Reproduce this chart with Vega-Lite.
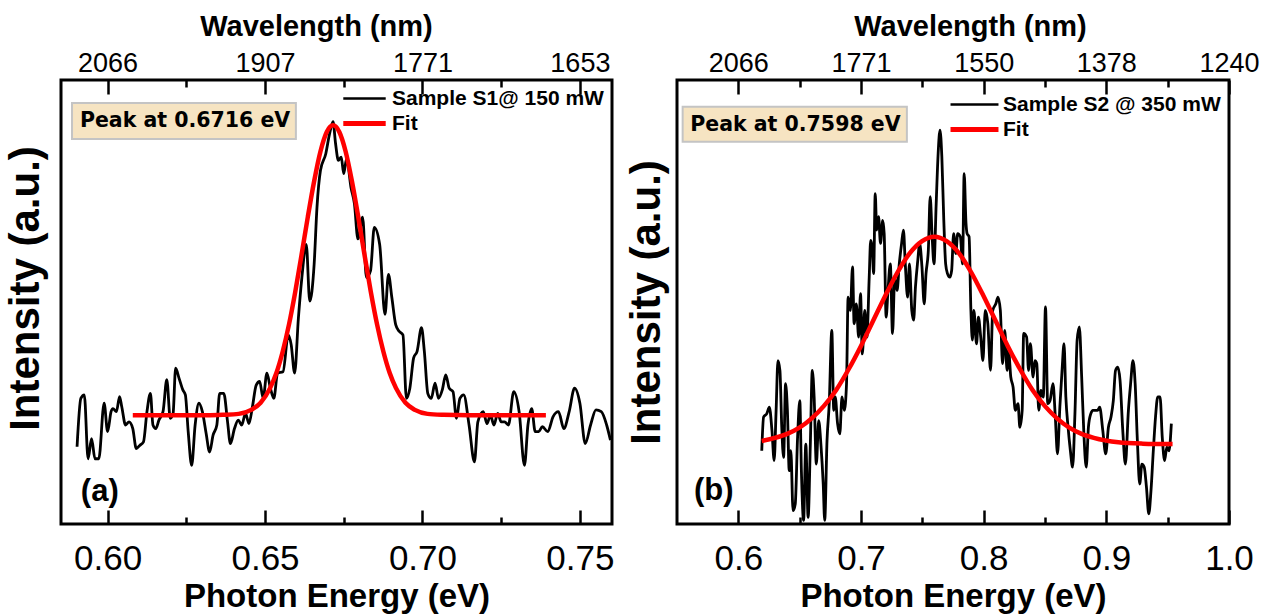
{
  "$schema": "https://vega.github.io/schema/vega-lite/v6.json",
  "padding": {"left": 2, "top": 10, "right": 0, "bottom": 0},
  "background": "white",
  "spacing": 65,
  "bounds": "flush",
  "config": {
    "view": {"stroke": "black", "strokeWidth": 3},
    "font": "Liberation Sans",
    "axis": {"domain": false, "grid": false, "tickColor": "black", "tickWidth": 2.5, "labelColor": "black", "titleColor": "black", "labelFlush": false, "labelOverlap": false, "labelBound": false},
    "axisY": {"labels": false, "ticks": false, "titleFont": "Liberation Sans", "titleFontWeight": "bold", "titleFontSize": 42}
  },
  "resolve": {"scale": {"color": "independent"}, "legend": {"color": "independent"}},
  "datasets": {
    "s1": [
      {"E":0.5903,"I":17.4},{"E":0.5915,"I":28.3},{"E":0.5926,"I":29.1},{"E":0.5938,"I":14.7},{"E":0.5949,"I":19.2},{"E":0.5960,"I":14.7},{"E":0.5972,"I":14.7},{"E":0.5989,"I":27.2},{"E":0.6000,"I":20.8},{"E":0.6011,"I":25.3},{"E":0.6017,"I":26.0},{"E":0.6028,"I":25.3},{"E":0.6038,"I":28.7},{"E":0.6045,"I":26.4},{"E":0.6057,"I":22.3},{"E":0.6068,"I":23.0},{"E":0.6080,"I":21.5},{"E":0.6091,"I":17.0},{"E":0.6102,"I":17.7},{"E":0.6114,"I":18.5},{"E":0.6125,"I":25.3},{"E":0.6136,"I":29.4},{"E":0.6144,"I":22.3},{"E":0.6153,"I":21.5},{"E":0.6163,"I":23.4},{"E":0.6176,"I":25.3},{"E":0.6188,"I":32.5},{"E":0.6199,"I":23.8},{"E":0.6208,"I":24.9},{"E":0.6216,"I":35.1},{"E":0.6227,"I":32.8},{"E":0.6239,"I":30.2},{"E":0.6247,"I":29.1},{"E":0.6256,"I":20.8},{"E":0.6267,"I":13.2},{"E":0.6278,"I":22.3},{"E":0.6290,"I":27.2},{"E":0.6301,"I":25.3},{"E":0.6313,"I":20.4},{"E":0.6324,"I":16.2},{"E":0.6335,"I":20.0},{"E":0.6347,"I":22.3},{"E":0.6356,"I":29.4},{"E":0.6369,"I":29.4},{"E":0.6381,"I":23.0},{"E":0.6390,"I":18.1},{"E":0.6403,"I":21.5},{"E":0.6415,"I":23.4},{"E":0.6426,"I":22.3},{"E":0.6438,"I":24.9},{"E":0.6449,"I":22.6},{"E":0.6460,"I":26.4},{"E":0.6472,"I":31.3},{"E":0.6483,"I":32.1},{"E":0.6494,"I":28.3},{"E":0.6506,"I":34.0},{"E":0.6517,"I":30.6},{"E":0.6528,"I":28.3},{"E":0.6540,"I":34.0},{"E":0.6557,"I":34.3},{"E":0.6574,"I":42.6},{"E":0.6583,"I":40.4},{"E":0.6594,"I":34.0},{"E":0.6606,"I":46.4},{"E":0.6617,"I":55.5},{"E":0.6631,"I":63.0},{"E":0.6642,"I":50.2},{"E":0.6656,"I":58.5},{"E":0.6665,"I":71.3},{"E":0.6676,"I":79.6},{"E":0.6693,"I":83.4},{"E":0.6705,"I":87.9},{"E":0.6716,"I":90.6},{"E":0.6724,"I":85.7},{"E":0.6733,"I":81.9},{"E":0.6742,"I":82.6},{"E":0.6750,"I":78.9},{"E":0.6759,"I":82.3},{"E":0.6773,"I":75.8},{"E":0.6784,"I":72.1},{"E":0.6795,"I":64.2},{"E":0.6810,"I":69.1},{"E":0.6822,"I":55.5},{"E":0.6835,"I":57.0},{"E":0.6847,"I":66.8},{"E":0.6864,"I":63.0},{"E":0.6881,"I":47.2},{"E":0.6892,"I":56.2},{"E":0.6903,"I":50.9},{"E":0.6915,"I":44.9},{"E":0.6926,"I":43.4},{"E":0.6938,"I":42.6},{"E":0.6949,"I":28.3},{"E":0.6960,"I":30.6},{"E":0.6972,"I":37.4},{"E":0.6983,"I":38.9},{"E":0.6997,"I":44.2},{"E":0.7006,"I":38.9},{"E":0.7017,"I":29.4},{"E":0.7028,"I":28.3},{"E":0.7040,"I":31.7},{"E":0.7051,"I":28.3},{"E":0.7063,"I":30.2},{"E":0.7074,"I":33.6},{"E":0.7085,"I":30.6},{"E":0.7097,"I":29.8},{"E":0.7108,"I":23.8},{"E":0.7119,"I":28.3},{"E":0.7131,"I":29.1},{"E":0.7148,"I":22.3},{"E":0.7165,"I":14.0},{"E":0.7176,"I":23.0},{"E":0.7193,"I":25.3},{"E":0.7205,"I":22.6},{"E":0.7216,"I":24.5},{"E":0.7227,"I":22.3},{"E":0.7239,"I":24.9},{"E":0.7250,"I":23.0},{"E":0.7261,"I":23.0},{"E":0.7273,"I":22.3},{"E":0.7290,"I":29.8},{"E":0.7307,"I":25.3},{"E":0.7324,"I":13.2},{"E":0.7335,"I":22.3},{"E":0.7347,"I":26.0},{"E":0.7358,"I":20.8},{"E":0.7369,"I":20.8},{"E":0.7381,"I":21.9},{"E":0.7398,"I":20.8},{"E":0.7415,"I":24.2},{"E":0.7432,"I":25.3},{"E":0.7449,"I":21.5},{"E":0.7466,"I":25.3},{"E":0.7483,"I":30.6},{"E":0.7500,"I":27.2},{"E":0.7517,"I":18.1},{"E":0.7534,"I":22.3},{"E":0.7551,"I":25.7},{"E":0.7568,"I":25.3},{"E":0.7585,"I":22.3},{"E":0.7597,"I":18.9}
    ],
    "f1": [
      {"E":0.6080,"I":24.5},{"E":0.6200,"I":24.5},{"E":0.6316,"I":24.5},{"E":0.6366,"I":24.6},{"E":0.6416,"I":24.8},{"E":0.6456,"I":25.7},{"E":0.6486,"I":27.3},{"E":0.6516,"I":30.6},{"E":0.6536,"I":34.0},{"E":0.6556,"I":38.8},{"E":0.6576,"I":44.9},{"E":0.6596,"I":52.3},{"E":0.6616,"I":60.6},{"E":0.6636,"I":69.2},{"E":0.6656,"I":77.2},{"E":0.6676,"I":83.9},{"E":0.6696,"I":88.3},{"E":0.6716,"I":89.8},{"E":0.6736,"I":88.3},{"E":0.6756,"I":83.9},{"E":0.6776,"I":77.2},{"E":0.6796,"I":69.2},{"E":0.6816,"I":60.6},{"E":0.6836,"I":52.3},{"E":0.6856,"I":44.9},{"E":0.6876,"I":38.8},{"E":0.6896,"I":34.0},{"E":0.6916,"I":30.6},{"E":0.6946,"I":27.3},{"E":0.6976,"I":25.7},{"E":0.7016,"I":24.8},{"E":0.7066,"I":24.6},{"E":0.7150,"I":24.5},{"E":0.7392,"I":24.5}
    ],
    "s2": [
      {"E":0.6191,"I":16.5},{"E":0.6206,"I":24.1},{"E":0.6231,"I":24.8},{"E":0.6253,"I":26.3},{"E":0.6274,"I":21.1},{"E":0.6292,"I":14.3},{"E":0.6308,"I":25.6},{"E":0.6323,"I":36.8},{"E":0.6339,"I":34.6},{"E":0.6354,"I":21.8},{"E":0.6369,"I":15.0},{"E":0.6385,"I":31.6},{"E":0.6400,"I":25.6},{"E":0.6415,"I":12.0},{"E":0.6428,"I":16.5},{"E":0.6446,"I":3.0},{"E":0.6464,"I":4.5},{"E":0.6483,"I":19.5},{"E":0.6501,"I":27.8},{"E":0.6514,"I":12.0},{"E":0.6532,"I":0.8},{"E":0.6550,"I":18.0},{"E":0.6569,"I":1.5},{"E":0.6587,"I":18.0},{"E":0.6603,"I":34.6},{"E":0.6618,"I":28.6},{"E":0.6636,"I":13.5},{"E":0.6655,"I":23.3},{"E":0.6673,"I":18.0},{"E":0.6692,"I":9.0},{"E":0.6704,"I":0.8},{"E":0.6723,"I":18.8},{"E":0.6741,"I":27.1},{"E":0.6762,"I":43.6},{"E":0.6778,"I":25.6},{"E":0.6790,"I":28.6},{"E":0.6809,"I":22.6},{"E":0.6827,"I":20.3},{"E":0.6845,"I":28.6},{"E":0.6864,"I":25.6},{"E":0.6882,"I":31.6},{"E":0.6895,"I":51.1},{"E":0.6913,"I":48.1},{"E":0.6931,"I":57.9},{"E":0.6944,"I":45.1},{"E":0.6962,"I":49.6},{"E":0.6981,"I":42.1},{"E":0.6996,"I":51.9},{"E":0.7011,"I":38.3},{"E":0.7030,"I":48.1},{"E":0.7048,"I":42.1},{"E":0.7067,"I":55.6},{"E":0.7079,"I":63.9},{"E":0.7091,"I":62.4},{"E":0.7103,"I":56.4},{"E":0.7116,"I":74.4},{"E":0.7128,"I":66.2},{"E":0.7143,"I":69.2},{"E":0.7159,"I":63.2},{"E":0.7177,"I":68.4},{"E":0.7189,"I":65.4},{"E":0.7205,"I":46.6},{"E":0.7220,"I":52.6},{"E":0.7239,"I":58.6},{"E":0.7257,"I":42.9},{"E":0.7275,"I":55.6},{"E":0.7294,"I":52.6},{"E":0.7312,"I":58.6},{"E":0.7331,"I":63.2},{"E":0.7346,"I":66.2},{"E":0.7361,"I":58.6},{"E":0.7380,"I":51.1},{"E":0.7395,"I":58.6},{"E":0.7414,"I":48.1},{"E":0.7429,"I":45.9},{"E":0.7444,"I":53.4},{"E":0.7463,"I":59.4},{"E":0.7478,"I":63.2},{"E":0.7497,"I":57.9},{"E":0.7515,"I":49.6},{"E":0.7530,"I":56.4},{"E":0.7549,"I":61.7},{"E":0.7564,"I":73.7},{"E":0.7580,"I":64.7},{"E":0.7595,"I":58.6},{"E":0.7613,"I":72.2},{"E":0.7629,"I":83.5},{"E":0.7644,"I":88.7},{"E":0.7659,"I":82.7},{"E":0.7675,"I":68.4},{"E":0.7690,"I":58.6},{"E":0.7705,"I":56.4},{"E":0.7724,"I":55.6},{"E":0.7739,"I":57.1},{"E":0.7755,"I":65.4},{"E":0.7773,"I":60.9},{"E":0.7788,"I":65.4},{"E":0.7810,"I":64.7},{"E":0.7828,"I":58.6},{"E":0.7841,"I":78.9},{"E":0.7856,"I":67.7},{"E":0.7865,"I":65.4},{"E":0.7881,"I":64.7},{"E":0.7896,"I":48.1},{"E":0.7908,"I":41.4},{"E":0.7920,"I":48.1},{"E":0.7942,"I":40.6},{"E":0.7957,"I":46.6},{"E":0.7976,"I":42.1},{"E":0.7994,"I":36.8},{"E":0.8013,"I":48.1},{"E":0.8034,"I":45.1},{"E":0.8056,"I":34.6},{"E":0.8074,"I":48.1},{"E":0.8099,"I":49.6},{"E":0.8117,"I":51.1},{"E":0.8136,"I":48.1},{"E":0.8154,"I":36.1},{"E":0.8172,"I":43.6},{"E":0.8191,"I":34.6},{"E":0.8203,"I":39.1},{"E":0.8221,"I":33.1},{"E":0.8240,"I":30.8},{"E":0.8258,"I":25.6},{"E":0.8280,"I":27.1},{"E":0.8295,"I":21.8},{"E":0.8314,"I":25.6},{"E":0.8326,"I":42.9},{"E":0.8350,"I":42.1},{"E":0.8366,"I":34.6},{"E":0.8381,"I":40.6},{"E":0.8403,"I":33.1},{"E":0.8418,"I":36.8},{"E":0.8433,"I":36.1},{"E":0.8449,"I":25.6},{"E":0.8467,"I":30.1},{"E":0.8486,"I":28.6},{"E":0.8504,"I":48.9},{"E":0.8522,"I":27.1},{"E":0.8541,"I":27.8},{"E":0.8565,"I":31.6},{"E":0.8584,"I":24.1},{"E":0.8602,"I":15.8},{"E":0.8621,"I":26.3},{"E":0.8639,"I":34.6},{"E":0.8655,"I":40.6},{"E":0.8670,"I":28.6},{"E":0.8688,"I":21.8},{"E":0.8707,"I":16.5},{"E":0.8725,"I":12.8},{"E":0.8744,"I":24.8},{"E":0.8762,"I":41.4},{"E":0.8780,"I":44.4},{"E":0.8799,"I":33.1},{"E":0.8817,"I":20.3},{"E":0.8836,"I":12.8},{"E":0.8854,"I":21.8},{"E":0.8873,"I":24.8},{"E":0.8891,"I":25.6},{"E":0.8909,"I":25.6},{"E":0.8928,"I":25.6},{"E":0.8946,"I":26.3},{"E":0.8971,"I":21.1},{"E":0.8995,"I":15.8},{"E":0.9017,"I":21.8},{"E":0.9038,"I":24.1},{"E":0.9057,"I":27.8},{"E":0.9075,"I":34.6},{"E":0.9094,"I":35.3},{"E":0.9112,"I":32.3},{"E":0.9134,"I":21.1},{"E":0.9155,"I":13.5},{"E":0.9180,"I":25.6},{"E":0.9198,"I":31.6},{"E":0.9217,"I":36.8},{"E":0.9235,"I":31.6},{"E":0.9253,"I":18.8},{"E":0.9272,"I":9.0},{"E":0.9290,"I":13.5},{"E":0.9309,"I":12.8},{"E":0.9327,"I":8.3},{"E":0.9346,"I":2.3},{"E":0.9364,"I":7.5},{"E":0.9383,"I":16.5},{"E":0.9401,"I":24.1},{"E":0.9419,"I":28.6},{"E":0.9438,"I":28.6},{"E":0.9456,"I":19.5},{"E":0.9475,"I":14.3},{"E":0.9493,"I":17.3},{"E":0.9511,"I":16.5},{"E":0.9530,"I":22.6}
    ],
    "f2": [
      {"E":0.6191,"I":18.7},{"E":0.6298,"I":19.4},{"E":0.6398,"I":20.3},{"E":0.6498,"I":21.7},{"E":0.6598,"I":23.8},{"E":0.6698,"I":26.6},{"E":0.6798,"I":30.2},{"E":0.6898,"I":34.8},{"E":0.6998,"I":40.0},{"E":0.7098,"I":45.7},{"E":0.7198,"I":51.4},{"E":0.7298,"I":56.7},{"E":0.7398,"I":61.0},{"E":0.7498,"I":63.7},{"E":0.7598,"I":64.7},{"E":0.7698,"I":63.7},{"E":0.7798,"I":61.0},{"E":0.7898,"I":56.7},{"E":0.7998,"I":51.4},{"E":0.8098,"I":45.7},{"E":0.8198,"I":40.0},{"E":0.8298,"I":34.8},{"E":0.8398,"I":30.2},{"E":0.8498,"I":26.6},{"E":0.8598,"I":23.8},{"E":0.8698,"I":21.7},{"E":0.8798,"I":20.3},{"E":0.8898,"I":19.4},{"E":0.9098,"I":18.4},{"E":0.9298,"I":18.1},{"E":0.9540,"I":18.0}
    ]
  },
  "hconcat": [
    {
      "width": 551,
      "height": 444,
      "layer": [
        {
          "data": {"values": [{}]},
          "mark": {"type": "rect", "fill": "#8a8a8a", "xOffset": 3, "yOffset": 3},
          "encoding": {
            "x": {"datum": 0.5887, "type": "quantitative", "scale": {"domain": [0.5852, 0.7602], "nice": false, "zero": false}, "axis": null},
            "x2": {"datum": 0.6598},
            "y": {"datum": 94.8, "type": "quantitative", "scale": {"domain": [0, 100], "nice": false}, "axis": {"title": "Intensity (a.u.)", "titlePadding": 14, "titleY": 208}},
            "y2": {"datum": 86.7}
          }
        },
        {
          "data": {"values": [{}]},
          "mark": {"type": "rect", "fill": "#f6e4c2", "stroke": "#c4c4c4", "strokeWidth": 2},
          "encoding": {
            "x": {"datum": 0.5887, "type": "quantitative", "axis": null},
            "x2": {"datum": 0.6598},
            "y": {"datum": 94.8, "type": "quantitative", "axis": {"title": "Intensity (a.u.)", "titlePadding": 14, "titleY": 208}},
            "y2": {"datum": 86.7}
          }
        },
        {
          "data": {"values": [{"label": "Peak at 0.6716 eV"}]},
          "mark": {"type": "text", "font": "DejaVu Sans", "fontWeight": "bold", "fontSize": 20.5, "align": "left", "baseline": "middle", "color": "black"},
          "encoding": {
            "x": {"datum": 0.5912, "type": "quantitative", "axis": null},
            "y": {"datum": 90.8, "type": "quantitative", "axis": {"title": "Intensity (a.u.)", "titlePadding": 14, "titleY": 208}},
            "text": {"field": "label"}
          }
        },
        {
          "data": {"values": [{"label": "(a)"}]},
          "mark": {"type": "text", "font": "Liberation Sans", "fontWeight": "bold", "fontSize": 31, "align": "left", "baseline": "middle", "color": "black"},
          "encoding": {
            "x": {"datum": 0.5915, "type": "quantitative", "axis": null},
            "y": {"datum": 7.2, "type": "quantitative", "axis": {"title": "Intensity (a.u.)", "titlePadding": 14, "titleY": 208}},
            "text": {"field": "label"}
          }
        },
        {
          "data": {"name": "s1"},
          "mark": {"type": "line", "strokeWidth": 2.8, "interpolate": "monotone"},
          "encoding": {
            "x": {"field": "E", "type": "quantitative",
              "axis": {"orient": "bottom", "title": "Photon Energy (eV)", "values": [0.6, 0.625, 0.65, 0.675, 0.7, 0.725, 0.75],
                "labelExpr": "abs(datum.value*20 - round(datum.value*20)) < 0.001 ? format(datum.value, '.2f') : ''",
                "tickSize": {"condition": {"test": "abs(datum.value*20 - round(datum.value*20)) < 0.001", "value": -14}, "value": -7},
                "labelFont": "Liberation Sans", "labelFontSize": 35, "labelPadding": 31,
                "titleFont": "Liberation Sans", "titleFontWeight": "bold", "titleFontSize": 33, "titlePadding": -3}},
            "y": {"field": "I", "type": "quantitative", "axis": {"title": "Intensity (a.u.)", "titlePadding": 14, "titleY": 208}},
            "color": {"datum": "Sample S1@ 150 mW", "type": "nominal",
              "scale": {"domain": ["Sample S1@ 150 mW", "Fit"], "range": ["#000000", "#ff0000"]},
              "legend": {"orient": "none", "legendX": 293, "legendY": 8, "title": null, "symbolType": "stroke", "symbolSize": 1800, "symbolStrokeWidth": 2.5, "labelFont": "Liberation Sans", "labelFontWeight": "bold", "labelFontSize": 21, "labelColor": "black", "labelLimit": 400, "rowPadding": 3, "labelOffset": 17, "padding": 0,
                "encode": {"symbols": {"update": {"strokeWidth": {"signal": "datum.value === 'Fit' ? 5 : 2.5"}}}}}}
          }
        },
        {
          "data": {"name": "f1"},
          "mark": {"type": "line", "strokeWidth": 4.5, "interpolate": "monotone"},
          "encoding": {
            "x": {"field": "E", "type": "quantitative",
              "axis": {"orient": "top", "title": "Wavelength (nm)", "values": [0.6, 0.625, 0.65, 0.675, 0.7, 0.725, 0.75],
                "labelExpr": "abs(datum.value*20 - round(datum.value*20)) < 0.001 ? format(1239.84/datum.value, '.0f') : ''",
                "tickSize": {"condition": {"test": "abs(datum.value*20 - round(datum.value*20)) < 0.001", "value": -14}, "value": -7},
                "labelFont": "Liberation Sans", "labelFontSize": 27, "labelPadding": 17,
                "titleFont": "Liberation Sans", "titleFontWeight": "bold", "titleFontSize": 29, "titlePadding": 1, "titleX": 255}},
            "y": {"field": "I", "type": "quantitative", "axis": {"title": "Intensity (a.u.)", "titlePadding": 14, "titleY": 208}},
            "color": {"datum": "Fit", "type": "nominal",
              "legend": {"orient": "none", "legendX": 293, "legendY": 8, "title": null, "symbolType": "stroke", "symbolSize": 1800, "symbolStrokeWidth": 2.5, "labelFont": "Liberation Sans", "labelFontWeight": "bold", "labelFontSize": 21, "labelColor": "black", "labelLimit": 400, "rowPadding": 3, "labelOffset": 17, "padding": 0,
                "encode": {"symbols": {"update": {"strokeWidth": {"signal": "datum.value === 'Fit' ? 5 : 2.5"}}}}}}
          }
        }
      ]
    },
    {
      "width": 552,
      "height": 444,
      "layer": [
        {
          "data": {"values": [{}]},
          "mark": {"type": "rect", "fill": "#8a8a8a", "xOffset": 3, "yOffset": 3},
          "encoding": {
            "x": {"datum": 0.5546, "type": "quantitative", "scale": {"domain": [0.55, 1.0], "nice": false, "zero": false}, "axis": null},
            "x2": {"datum": 0.7374},
            "y": {"datum": 94.0, "type": "quantitative", "scale": {"domain": [0, 100], "nice": false}, "axis": {"title": "Intensity (a.u.)", "titlePadding": 9}},
            "y2": {"datum": 86.1}
          }
        },
        {
          "data": {"values": [{}]},
          "mark": {"type": "rect", "fill": "#f6e4c2", "stroke": "#c4c4c4", "strokeWidth": 2},
          "encoding": {
            "x": {"datum": 0.5546, "type": "quantitative", "axis": null},
            "x2": {"datum": 0.7374},
            "y": {"datum": 94.0, "type": "quantitative", "axis": {"title": "Intensity (a.u.)", "titlePadding": 9}},
            "y2": {"datum": 86.1}
          }
        },
        {
          "data": {"values": [{"label": "Peak at 0.7598 eV"}]},
          "mark": {"type": "text", "font": "DejaVu Sans", "fontWeight": "bold", "fontSize": 20.5, "align": "left", "baseline": "middle", "color": "black"},
          "encoding": {
            "x": {"datum": 0.5608, "type": "quantitative", "axis": null},
            "y": {"datum": 89.9, "type": "quantitative", "axis": {"title": "Intensity (a.u.)", "titlePadding": 9}},
            "text": {"field": "label"}
          }
        },
        {
          "data": {"values": [{"label": "(b)"}]},
          "mark": {"type": "text", "font": "Liberation Sans", "fontWeight": "bold", "fontSize": 31, "align": "left", "baseline": "middle", "color": "black"},
          "encoding": {
            "x": {"datum": 0.5638, "type": "quantitative", "axis": null},
            "y": {"datum": 7.5, "type": "quantitative", "axis": {"title": "Intensity (a.u.)", "titlePadding": 9}},
            "text": {"field": "label"}
          }
        },
        {
          "data": {"name": "s2"},
          "mark": {"type": "line", "strokeWidth": 2.8, "interpolate": "monotone"},
          "encoding": {
            "x": {"field": "E", "type": "quantitative",
              "axis": {"orient": "bottom", "title": "Photon Energy (eV)", "values": [0.6, 0.65, 0.7, 0.75, 0.8, 0.85, 0.9, 0.95, 1.0],
                "labelExpr": "abs(datum.value*10 - round(datum.value*10)) < 0.001 ? format(datum.value, '.1f') : ''",
                "tickSize": {"condition": {"test": "abs(datum.value*10 - round(datum.value*10)) < 0.001", "value": -14}, "value": -7},
                "labelFont": "Liberation Sans", "labelFontSize": 35, "labelPadding": 31,
                "titleFont": "Liberation Sans", "titleFontWeight": "bold", "titleFontSize": 33, "titlePadding": -3}},
            "y": {"field": "I", "type": "quantitative", "axis": {"title": "Intensity (a.u.)", "titlePadding": 9}},
            "color": {"datum": "Sample S2 @ 350 mW", "type": "nominal",
              "scale": {"domain": ["Sample S2 @ 350 mW", "Fit"], "range": ["#000000", "#ff0000"]},
              "legend": {"orient": "none", "legendX": 287, "legendY": 14, "title": null, "symbolType": "stroke", "symbolSize": 2300, "symbolStrokeWidth": 2.5, "labelFont": "Liberation Sans", "labelFontWeight": "bold", "labelFontSize": 21, "labelColor": "black", "labelLimit": 400, "rowPadding": 3, "labelOffset": 18, "padding": 0,
                "encode": {"symbols": {"update": {"strokeWidth": {"signal": "datum.value === 'Fit' ? 5 : 2.5"}}}}}}
          }
        },
        {
          "data": {"name": "f2"},
          "mark": {"type": "line", "strokeWidth": 4.5, "interpolate": "monotone"},
          "encoding": {
            "x": {"field": "E", "type": "quantitative",
              "axis": {"orient": "top", "title": "Wavelength (nm)", "values": [0.6, 0.65, 0.7, 0.75, 0.8, 0.85, 0.9, 0.95, 1.0],
                "labelExpr": "abs(datum.value*10 - round(datum.value*10)) < 0.001 ? format(1239.84/datum.value, '.0f') : ''",
                "tickSize": {"condition": {"test": "abs(datum.value*10 - round(datum.value*10)) < 0.001", "value": -14}, "value": -7},
                "labelFont": "Liberation Sans", "labelFontSize": 27, "labelPadding": 17,
                "titleFont": "Liberation Sans", "titleFontWeight": "bold", "titleFontSize": 29, "titlePadding": 1, "titleX": 293}},
            "y": {"field": "I", "type": "quantitative", "axis": {"title": "Intensity (a.u.)", "titlePadding": 9}},
            "color": {"datum": "Fit", "type": "nominal",
              "legend": {"orient": "none", "legendX": 287, "legendY": 14, "title": null, "symbolType": "stroke", "symbolSize": 2300, "symbolStrokeWidth": 2.5, "labelFont": "Liberation Sans", "labelFontWeight": "bold", "labelFontSize": 21, "labelColor": "black", "labelLimit": 400, "rowPadding": 3, "labelOffset": 18, "padding": 0,
                "encode": {"symbols": {"update": {"strokeWidth": {"signal": "datum.value === 'Fit' ? 5 : 2.5"}}}}}}
          }
        }
      ]
    }
  ]
}
